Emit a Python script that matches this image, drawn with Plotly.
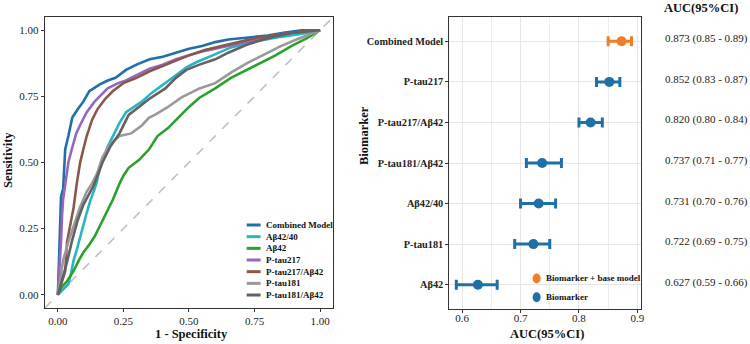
import plotly.graph_objects as go

W, H = 750, 344
def px(x): return x / W
def py(y): return 1 - y / H

SERIF = "Liberation Serif"

# ---------------- ROC data ----------------
roc_names = ["Combined Model", "Aβ42/40", "Aβ42", "P-tau217", "P-tau217/Aβ42", "P-tau181", "P-tau181/Aβ42"]
roc_colors = ["#1f6fa8", "#27b5c6", "#2ca02c", "#9467bd", "#8c564b", "#999999", "#626262"]

fpr_combined = [0, 0.004, 0.008, 0.012, 0.02, 0.028, 0.04, 0.047, 0.055, 0.075, 0.097, 0.12, 0.135, 0.16, 0.19, 0.22, 0.26, 0.3, 0.35, 0.4, 0.45, 0.5, 0.55, 0.6, 0.65, 0.73, 0.8, 0.86, 0.93, 1]
tpr_combined = [0, 0.15, 0.3, 0.37, 0.4, 0.55, 0.6, 0.63, 0.67, 0.7, 0.73, 0.77, 0.78, 0.795, 0.81, 0.82, 0.85, 0.87, 0.89, 0.9, 0.915, 0.93, 0.94, 0.955, 0.965, 0.972, 0.98, 0.99, 1.0, 1]

fpr_ab4240 = [0, 0.02, 0.04, 0.05, 0.06, 0.072, 0.085, 0.097, 0.11, 0.122, 0.135, 0.147, 0.16, 0.175, 0.19, 0.21, 0.235, 0.26, 0.29, 0.32, 0.36, 0.41, 0.45, 0.49, 0.53, 0.59, 0.66, 0.74, 0.85, 0.95, 1]
tpr_ab4240 = [0, 0.02, 0.04, 0.08, 0.13, 0.17, 0.22, 0.26, 0.31, 0.35, 0.39, 0.42, 0.48, 0.52, 0.56, 0.6, 0.65, 0.69, 0.71, 0.73, 0.765, 0.8, 0.83, 0.86, 0.88, 0.905, 0.935, 0.955, 0.975, 0.99, 1]

fpr_ab42 = [0, 0.015, 0.034, 0.06, 0.08, 0.097, 0.12, 0.14, 0.16, 0.185, 0.21, 0.235, 0.25, 0.27, 0.31, 0.348, 0.38, 0.42, 0.46, 0.5, 0.54, 0.6, 0.66, 0.72, 0.78, 0.83, 0.89, 0.95, 1]
tpr_ab42 = [0, 0.03, 0.05, 0.09, 0.13, 0.16, 0.19, 0.22, 0.26, 0.31, 0.36, 0.42, 0.45, 0.48, 0.51, 0.55, 0.6, 0.63, 0.67, 0.71, 0.745, 0.78, 0.82, 0.85, 0.88, 0.905, 0.94, 0.97, 1]

fpr_pt217 = [0, 0.005, 0.012, 0.016, 0.02, 0.03, 0.04, 0.053, 0.07, 0.084, 0.11, 0.14, 0.16, 0.19, 0.23, 0.26, 0.3, 0.35, 0.4, 0.45, 0.5, 0.55, 0.6, 0.67, 0.75, 0.85, 0.93, 1]
tpr_pt217 = [0, 0.07, 0.2, 0.3, 0.36, 0.43, 0.5, 0.55, 0.61, 0.64, 0.69, 0.73, 0.75, 0.78, 0.8, 0.81, 0.83, 0.855, 0.87, 0.89, 0.905, 0.92, 0.93, 0.945, 0.965, 0.985, 0.995, 1]

fpr_pt217ab = [0, 0.01, 0.028, 0.035, 0.045, 0.06, 0.072, 0.085, 0.097, 0.11, 0.13, 0.15, 0.18, 0.21, 0.25, 0.3, 0.35, 0.4, 0.45, 0.5, 0.56, 0.62, 0.68, 0.75, 0.85, 0.95, 1]
tpr_pt217ab = [0, 0.03, 0.09, 0.2, 0.25, 0.33, 0.42, 0.5, 0.55, 0.6, 0.66, 0.7, 0.74, 0.77, 0.8, 0.82, 0.845, 0.865, 0.885, 0.905, 0.925, 0.94, 0.955, 0.97, 0.985, 0.998, 1]

fpr_pt181 = [0, 0.009, 0.02, 0.04, 0.06, 0.084, 0.11, 0.13, 0.15, 0.17, 0.2, 0.235, 0.28, 0.32, 0.348, 0.37, 0.42, 0.47, 0.54, 0.6, 0.66, 0.73, 0.79, 0.85, 0.91, 0.96, 1]
tpr_pt181 = [0, 0.06, 0.13, 0.2, 0.26, 0.33, 0.39, 0.42, 0.46, 0.52, 0.57, 0.6, 0.61, 0.64, 0.67, 0.68, 0.71, 0.745, 0.78, 0.8, 0.84, 0.88, 0.91, 0.94, 0.965, 0.985, 1]

fpr_pt181ab = [0, 0.015, 0.034, 0.053, 0.075, 0.097, 0.12, 0.135, 0.155, 0.17, 0.2, 0.235, 0.27, 0.31, 0.348, 0.41, 0.45, 0.49, 0.54, 0.6, 0.65, 0.72, 0.8, 0.89, 1]
tpr_pt181ab = [0, 0.05, 0.12, 0.2, 0.28, 0.34, 0.38, 0.41, 0.46, 0.5, 0.56, 0.61, 0.68, 0.71, 0.74, 0.78, 0.82, 0.85, 0.87, 0.89, 0.915, 0.945, 0.97, 0.99, 1]

roc_fpr = [fpr_combined, fpr_ab4240, fpr_ab42, fpr_pt217, fpr_pt217ab, fpr_pt181, fpr_pt181ab]
roc_tpr = [tpr_combined, tpr_ab4240, tpr_ab42, tpr_pt217, tpr_pt217ab, tpr_pt181, tpr_pt181ab]

roc_ticks = [0, 0.25, 0.5, 0.75, 1.0]

# ---------------- Forest data ----------------
biomarkers = ["Combined Model", "P-tau217", "P-tau217/Aβ42", "P-tau181/Aβ42", "Aβ42/40", "P-tau181", "Aβ42"]
auc = [0.873, 0.852, 0.820, 0.737, 0.731, 0.722, 0.627]
ci_low = [0.85, 0.83, 0.80, 0.71, 0.70, 0.69, 0.59]
ci_high = [0.89, 0.87, 0.84, 0.77, 0.76, 0.75, 0.66]
group = ["Biomarker + base model", "Biomarker", "Biomarker", "Biomarker", "Biomarker", "Biomarker", "Biomarker"]
group_names = ["Biomarker + base model", "Biomarker"]
group_colors = ["#f07e26", "#1f6fa8"]
forest_ticks = [0.6, 0.7, 0.8, 0.9]

fig = go.Figure()

# ROC curves
for name, col, fx, ty in zip(roc_names, roc_colors, roc_fpr, roc_tpr):
    fig.add_trace(go.Scatter(x=fx, y=ty, mode="lines", name=name,
                             line=dict(color=col, width=2.6),
                             xaxis="x", yaxis="y", showlegend=False))

# Forest points
for gname, gcol in zip(group_names, group_colors):
    idx = [i for i, g in enumerate(group) if g == gname]
    fig.add_trace(go.Scatter(
        x=[auc[i] for i in idx], y=[biomarkers[i] for i in idx],
        mode="markers", name=gname,
        marker=dict(color=gcol, size=10),
        error_x=dict(type="data", symmetric=False,
                     array=[ci_high[i] - auc[i] for i in idx],
                     arrayminus=[auc[i] - ci_low[i] for i in idx],
                     color=gcol, thickness=3, width=5),
        xaxis="x2", yaxis="y2", showlegend=False))

axis_common = dict(showline=True, mirror=True, linecolor="#333333", linewidth=1,
                   ticks="outside", ticklen=3, tickcolor="#333333", zeroline=False,
                   tickfont=dict(family=SERIF, size=11, color="#222222"))

fig.update_layout(
    width=W, height=H, margin=dict(l=0, r=0, t=0, b=0),
    paper_bgcolor="white", plot_bgcolor="white", showlegend=False,
    xaxis=dict(domain=[px(45), px(335)], range=[-0.05, 1.05], tickvals=roc_ticks,
               tickformat=".2f", showgrid=False, anchor="y", **axis_common),
    yaxis=dict(domain=[py(308), py(17)], range=[-0.05, 1.05], tickvals=roc_ticks,
               tickformat=".2f", showgrid=False, anchor="x", **axis_common),
    xaxis2=dict(domain=[px(451.7), px(644.3)], range=[0.578, 0.906], tickvals=forest_ticks,
                showgrid=True, gridcolor="#e6e6e6", gridwidth=1,
                minor=dict(dtick=0.05, tick0=0.6, showgrid=True, gridcolor="#ededed", gridwidth=0.6),
                anchor="y2", ticklabelstandoff=-4, **axis_common),
    yaxis2=dict(domain=[py(309), py(17)], type="category",
                categoryorder="array", categoryarray=biomarkers[::-1],
                range=[-0.6, len(biomarkers) - 0.4],
                showgrid=True, gridcolor="#e6e6e6", gridwidth=1.2,
                anchor="x2", **{**axis_common,
                                "tickfont": dict(family=SERIF, size=10.3, color="#222222", weight="bold")}),
)

shapes = []
annotations = []

# diagonal reference line
shapes.append(dict(type="line", xref="x", yref="y", x0=-0.05, y0=-0.05, x1=1.05, y1=1.05,
                   line=dict(color="#c0c0c0", width=1.6, dash="dash"), layer="below"))

# ROC legend (manual)
for i, (name, col) in enumerate(zip(roc_names, roc_colors)):
    yy = 225 + i * 11.67
    shapes.append(dict(type="line", xref="paper", yref="paper",
                       x0=px(248), x1=px(262), y0=py(yy), y1=py(yy),
                       line=dict(color=col, width=3)))
    annotations.append(dict(text=name, xref="paper", yref="paper", x=px(265), y=py(yy),
                            xanchor="left", yanchor="middle", showarrow=False,
                            font=dict(family=SERIF, size=9, color="#111111", weight="bold")))

# Forest legend (manual)
for i, (gname, gcol) in enumerate(zip(group_names, group_colors)):
    yy = 278.5 + i * 18.8
    shapes.append(dict(type="circle", xref="paper", yref="paper",
                       xsizemode="pixel", ysizemode="pixel",
                       xanchor=px(539.5), yanchor=py(yy),
                       x0=-4, x1=4, y0=-5, y1=5,
                       fillcolor=gcol, line=dict(width=0)))
    annotations.append(dict(text=gname, xref="paper", yref="paper", x=px(547), y=py(yy - 0.5),
                            xanchor="left", yanchor="middle", showarrow=False,
                            font=dict(family=SERIF, size=9, color="#111111", weight="bold")))

# AUC text column
annotations.append(dict(text="AUC(95%CI)", xref="paper", yref="paper", x=px(666), y=py(7.5),
                        xanchor="left", yanchor="middle", showarrow=False,
                        font=dict(family=SERIF, size=12.5, color="#111111", weight="bold")))
for b, a, lo, hi in zip(biomarkers, auc, ci_low, ci_high):
    annotations.append(dict(text=f"{a:.3f} ({lo:.2f} - {hi:.2f})", xref="paper", yref="y2",
                            x=px(666.5), y=b, yshift=2.5, xanchor="left", yanchor="middle",
                            showarrow=False, font=dict(family=SERIF, size=11, color="#222222")))

# axis titles
title_font = dict(family=SERIF, size=12.5, color="#111111", weight="bold")
annotations += [
    dict(text="1 - Specificity", xref="paper", yref="paper", x=px(193), y=py(333.5),
         xanchor="center", yanchor="middle", showarrow=False, font=title_font),
    dict(text="Sensitivity", xref="paper", yref="paper", x=px(8), y=py(160),
         xanchor="center", yanchor="middle", showarrow=False, textangle=-90, font=title_font),
    dict(text="AUC(95%CI)", xref="paper", yref="paper", x=px(550), y=py(333.5),
         xanchor="center", yanchor="middle", showarrow=False, font=title_font),
    dict(text="Biomarker", xref="paper", yref="paper", x=px(366), y=py(136),
         xanchor="center", yanchor="middle", showarrow=False, textangle=-90, font=title_font),
]

fig.update_layout(shapes=shapes, annotations=annotations)
fig.write_html("out.html")
